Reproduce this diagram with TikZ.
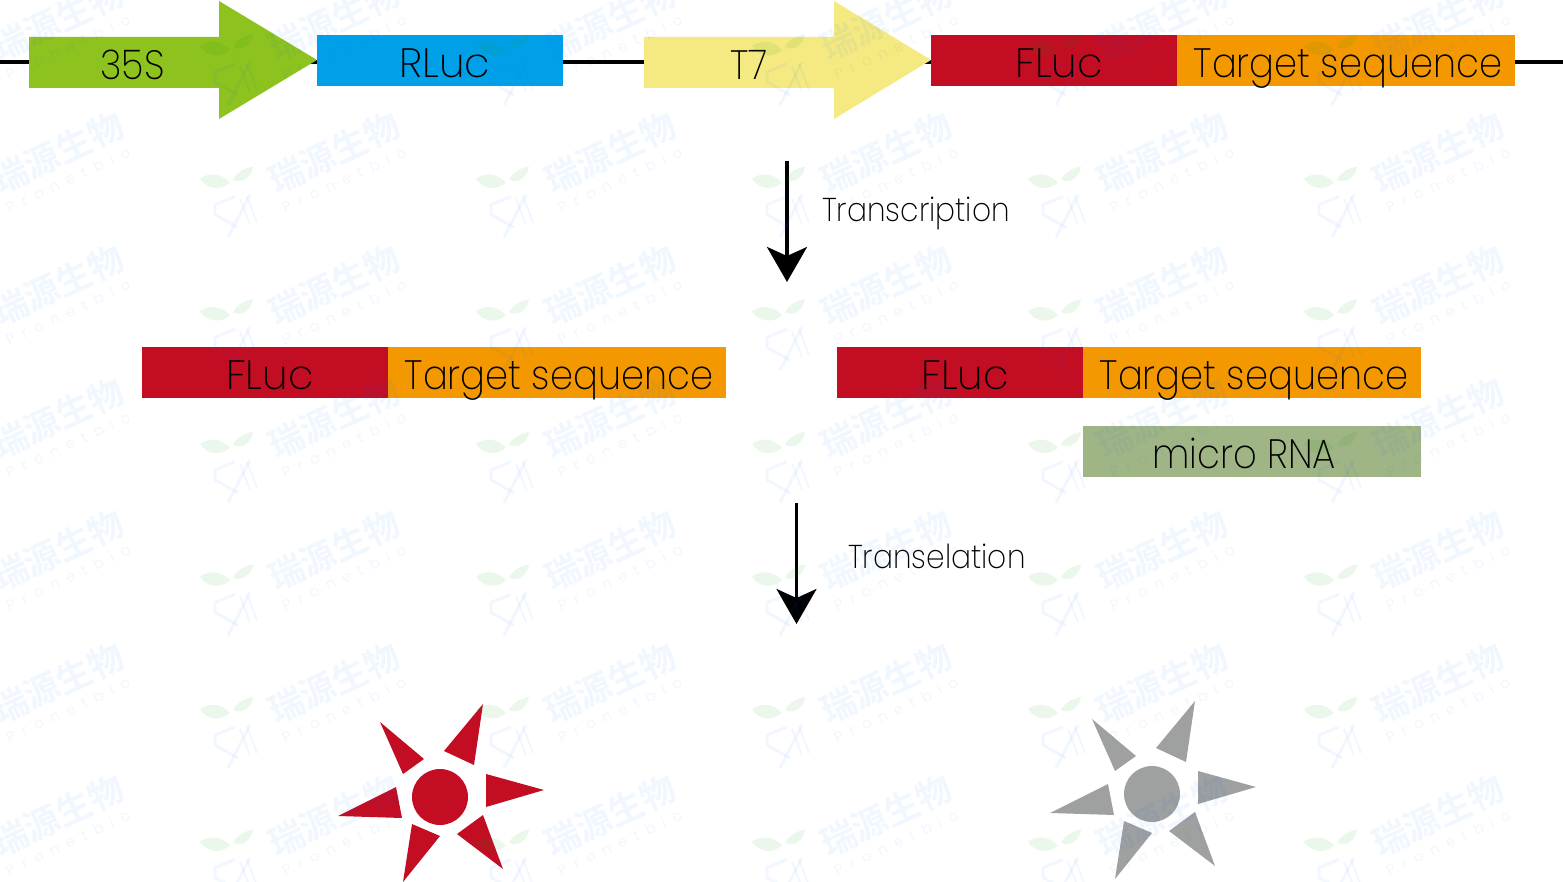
\documentclass[tikz,border=0pt]{standalone}
\usepackage{fontspec}
\setmainfont{Poppins}[UprightFont=* ExtraLight,FakeStretch=0.9]
\newfontfamily\widefam{Poppins}[UprightFont=* ExtraLight]
\newfontfamily\cjkwm{Noto Sans CJK SC}[UprightFont=* Bold]
\newfontfamily\latwm{Poppins}[LetterSpace=53]
\usetikzlibrary{arrows.meta,backgrounds}
\definecolor{cgreen}{HTML}{8DC21F}
\definecolor{cblue}{HTML}{00A0E9}
\definecolor{cyellow}{HTML}{F5E981}
\definecolor{cred}{HTML}{C30D23}
\definecolor{corange}{HTML}{F39800}
\definecolor{cmirna}{HTML}{A0B585}
\definecolor{cgray}{HTML}{9FA0A0}
\tikzset{
  geneblock/.style={rectangle,inner sep=0pt,minimum height=51pt,text=black,text height=36.5pt,text depth=2.5pt,font=\fontsize{41}{41}\selectfont},
  fluc/.style={geneblock,fill=cred,minimum width=246pt},
  targetseq/.style={geneblock,fill=corange,minimum width=338pt},
  promlabel/.style={inner sep=0pt,anchor=base,text=black,font=\fontsize{41}{41}\selectfont},
  backbone/.style={line width=3.6pt,black},
  flowarrow/.style={line width=3.4pt,black,-{Stealth[length=35pt,width=40pt,inset=9pt]},shorten >=0pt},
  steplabel/.style={inner sep=0pt,anchor=base west,text=black,font=\fontsize{33}{33}\selectfont},
  wmtext/.style={inner sep=0pt,rotate=25,text=blue!60!cyan,opacity=0.055},
  wmleaf/.style={fill=green!60!black,fill opacity=0.08},
  wmstroke/.style={draw=blue!60!cyan,draw opacity=0.05,line width=3pt}
}
\newcommand{\sparkburst}[1]{%
  \fill[#1] (380,722)--(424,759)--(403,774)--cycle;
  \fill[#1] (483,704)--(444,751)--(474,765)--cycle;
  \fill[#1] (544,790)--(486,774)--(486,807)--cycle;
  \fill[#1] (483,815)--(457,834)--(503,869)--cycle;
  \fill[#1] (403,882)--(412,824)--(440,836)--cycle;
  \fill[#1] (338,816)--(396,787)--(402,818)--cycle;
  \fill[#1] (440,797) circle[radius=28];
}
\newcommand{\shR}{\hspace*{10pt}}
\newcommand{\shT}{\hspace*{4pt}}
\begin{document}
\begin{tikzpicture}[x=1pt,y=-1pt]
\useasboundingbox (0,0) rectangle (1563,882);
% left and right ends of the backbone
\coordinate (lineL) at (0,62);
\coordinate (lineR) at (1563,62);
\coordinate (tail35) at (29,62);
\coordinate (tailT7) at (644,62);
% promoter arrows
\fill[cgreen] (29,37)--(219,37)--(219,1)--(317,60)--(219,119)--(219,88)--(29,88)--cycle;
\fill[cyellow] (644,37)--(834,37)--(834,1)--(931,60)--(834,119)--(834,88)--(644,88)--cycle;
\node[promlabel] (p35) at (132.5,80) {35S};
\node[promlabel] (pT7) at (749,80) {T7};
% construct
\node[geneblock,fill=cblue,minimum width=246pt] (rluc) at (440,60.5) {\shR{\widefam RLuc}};
\node[fluc] (flucA) at (1054,60.5) {\shR{\widefam FLuc}};
\node[targetseq] (tarA) at (1346,60.5) {\shT Target sequence};
\begin{scope}[on background layer]
  \draw[backbone] (lineL) -- (tail35);
  \draw[backbone] (rluc.east |- lineL) -- (tailT7);
  \draw[backbone] (tailT7) -- (flucA.west |- lineL);
  \draw[backbone] (tarA.east |- lineL) -- (lineR);
  \draw[backbone] (tail35) -- (rluc.west |- lineL);
\end{scope}
% transcripts
\node[fluc] (flucB) at (265,372.5) {\shR{\widefam FLuc}};
\node[targetseq] (tarB) at (557,372.5) {\shT Target sequence};
\node[fluc] (flucC) at (960,372.5) {\shR{\widefam FLuc}};
\node[targetseq] (tarC) at (1252,372.5) {\shT Target sequence};
\node[geneblock,fill=cmirna,minimum width=338pt] (mirna) at (1252,451.5) {micro RNA\hspace*{16pt}};
% flow arrows
\coordinate (a1s) at (787,161);
\coordinate (a1e) at (787,282);
\coordinate (a2s) at (796.5,503);
\coordinate (a2e) at (796.5,624);
\draw[flowarrow] (a1s) -- (a1e);
\draw[flowarrow] (a2s) -- (a2e);
\node[steplabel] (ltr) at (822,222) {Transcription};
\node[steplabel] (lts) at (848,568) {Transelation};
% luciferase signals
\sparkburst{cred}
\begin{scope}[shift={(712,-3)}]
  \sparkburst{cgray}
\end{scope}
% watermark
\foreach \i in {0,...,5}{
  \foreach \j in {0,...,6}{
    \begin{scope}[shift={(\i*276,\j*132.6)}]
      \node[wmtext,font=\cjkwm\fontsize{35}{35}\selectfont] (wmA\i\j) at (58,20) {瑞源生物};
      \node[wmtext,font=\latwm\fontsize{15}{15}\selectfont] (wmB\i\j) at (68,47) {Pronetbio};
      \fill[wmleaf] (-76,46) .. controls (-66,39) and (-54,41) .. (-46,50) .. controls (-56,59) and (-70,56) .. (-76,46) -- cycle;
      \fill[wmleaf] (-43,47) .. controls (-40,40) and (-30,35) .. (-23,34) .. controls (-24,44) and (-34,52) .. (-43,47) -- cycle;
      \draw[wmstroke,line join=round] (-41,64) -- (-61,72) -- (-61,82) -- (-38,95);
      \draw[wmstroke] (-26,62) -- (-48,105);
      \draw[wmstroke,line width=2pt] (-29,64) -- (-19,90);
      \draw[wmstroke,line width=2pt] (-36,66) -- (-26,92);
    \end{scope}
  }
}
\end{tikzpicture}
\end{document}
